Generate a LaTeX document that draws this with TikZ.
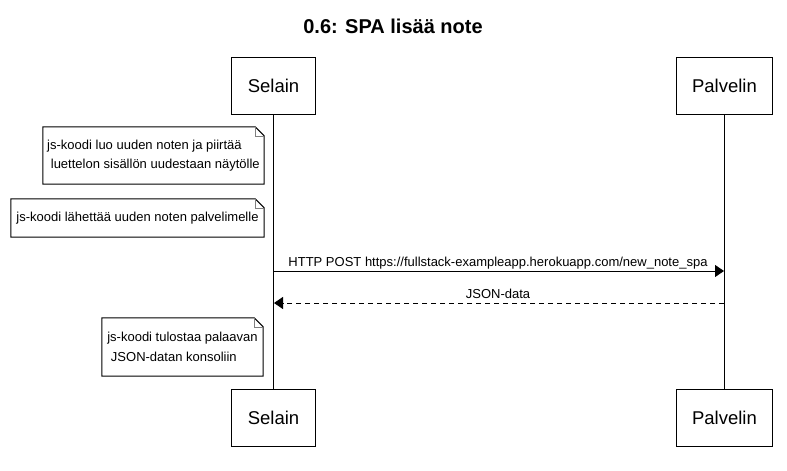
\documentclass[tikz,border=0pt]{standalone}
\usepackage{fontspec}
\setmainfont{Liberation Sans}
\usetikzlibrary{arrows.meta}

\begin{document}
\begin{tikzpicture}[x=1pt, y=-1pt,
  actor/.style={draw, line width=1pt, inner xsep=16pt, minimum height=57pt, font=\fontsize{18.5}{22}\selectfont},
  notebox/.style={inner sep=0pt, minimum width=#1, align=left, font=\fontsize{13}{19.5}\selectfont},
  msglabel/.style={font=\fontsize{13}{15}\selectfont, inner sep=0pt, anchor=base},
  msg/.style={line width=1pt, -{Triangle[length=9pt,width=12pt]}}]
\useasboundingbox (0,0) rectangle (787,471);
\node[font=\bfseries\fontsize{20}{24}\selectfont] (title) at (393,26){0.6: SPA lisää note};
\node[actor] (sel0) at (273.5,85.5){Selain};
\node[actor] (pal0) at (724.5,85.5){Palvelin};
\node[actor] (sel1) at (273.5,418){Selain};
\node[actor] (pal1) at (724.5,418){Palvelin};
\draw[line width=1pt](sel0) -- (sel1);
\draw[line width=1pt](pal0) -- (pal1);

\node[notebox=221pt, minimum height=57pt] (note0) at (153.5,155.5){js-koodi luo uuden noten ja piirtää\\\hspace*{0.28em}luettelon sisällön uudestaan näytölle};
\node[notebox=253pt, minimum height=38pt] (note1) at (137.5,218){js-koodi lähettää uuden noten palvelimelle};
\node[notebox=161pt, minimum height=58pt] (note2) at (182.5,347){js-koodi tulostaa palaavan\\\hspace*{0.28em}JSON-datan konsoliin};
\foreach \n in {note0,note1,note2}{
  \draw[line width=1pt] (\n.south west) -- (\n.north west) -- ([xshift=-9pt]\n.north east) -- ([yshift=-9pt]\n.north east) -- (\n.south east) -- cycle;
  \draw[line width=0.6pt, gray] ([xshift=-9pt]\n.north east) |- ([yshift=-9pt]\n.north east);
}

\coordinate (s0) at (274,271);
\coordinate (p0) at (724,271);
\coordinate (s1) at (274,303);
\coordinate (p1) at (724,303);
\draw[msg] (s0) -- (p0);
\draw[msg, dash pattern=on 5pt off 4pt] (p1) -- (s1);
\node[msglabel] (lbl0) at (498,266){HTTP POST https://fullstack-exampleapp.herokuapp.com/new\_note\_spa};
\node[msglabel] (lbl1) at (498,298){JSON-data};

\end{tikzpicture}
\end{document}
